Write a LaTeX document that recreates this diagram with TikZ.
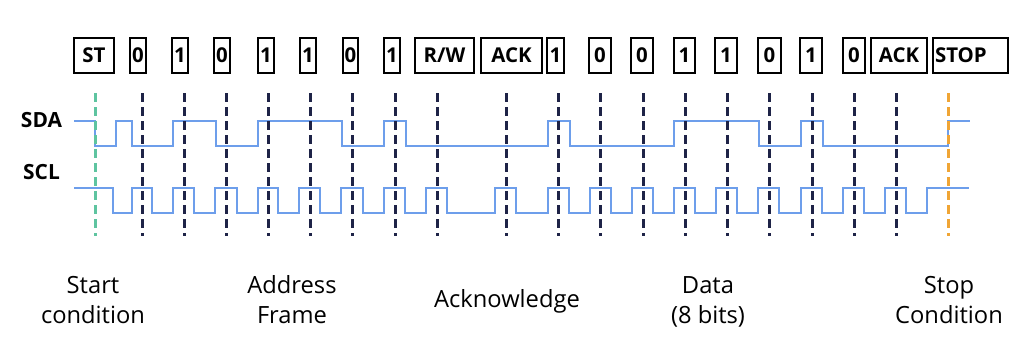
\documentclass[tikz,border=0pt]{standalone}
\usepackage{fontspec}
\setmainfont{Open Sans}
\definecolor{wblue}{HTML}{6D9EEB}
\definecolor{navy}{HTML}{1E2347}
\definecolor{tgreen}{HTML}{5EC4A0}
\definecolor{torange}{HTML}{F0A535}
\begin{document}
\begin{tikzpicture}[x=1bp,y=-1bp,
  bitbox/.style={draw=black, line width=1.8bp, minimum height=35.5bp, inner sep=0pt,
    font=\bfseries\fontsize{20.5}{22}\selectfont},
  wave/.style={draw=wblue, line width=2.1bp, line join=miter},
  tick/.style={line width=3bp, dash pattern=on 9bp off 5bp},
  lbl/.style={font=\fontsize{23.8}{30}\selectfont, anchor=base},
  sig/.style={font=\bfseries\fontsize{21}{24}\selectfont, anchor=base}]
\useasboundingbox (0,0) rectangle (1024,351);

% bit boxes
\foreach \l/\r/\t/\n in {73/115/ST/bst, 129/147/0/ba1, 171/189/1/ba2, 213/231/0/ba3,
  257/275/1/ba4, 299/317/1/ba5, 342/359/0/ba6, 383/401/1/ba7, 414/475/R\slash W/brw,
  480/543/ACK/back1, 546/565/1/bd1, 588/612/0/bd2, 630/654/0/bd3, 673/696/1/bd4,
  714/738/1/bd5, 757/782/0/bd6, 799/823/1/bd7, 842/866/0/bd8, 870/928/ACK/back2}
  \node[bitbox, minimum width={(\r-\l-1.8)*1bp}] (\n) at ({(\l+\r)/2},55.5) {\t};
\node[bitbox, minimum width=75.2bp, text width=71bp, align=left] (bstop) at (970.5,55.5) {STOP};

% signal names
\node[sig] (sda) at (41.5,127) {SDA};
\node[sig] (scl) at (41.5,179) {SCL};

% SDA waveform
\draw[wave] (74,121) -- (95,121) -- (95,146) -- (116,146) -- (116,121) -- (132,121)
  -- (132,146) -- (173,146) -- (173,121) -- (216,121) -- (216,146) -- (258,146)
  -- (258,121) -- (342,121) -- (342,146) -- (384,146) -- (384,121) -- (406,121)
  -- (406,146) -- (548,146) -- (548,121) -- (570,121) -- (570,146) -- (674,146)
  -- (674,121) -- (759,121) -- (759,146) -- (801,146) -- (801,121) -- (823,121)
  -- (823,146) -- (948,146) -- (948,121) -- (970,121);

% SCL waveform
\draw[wave] (74,188) -- (113,188) -- (113,213) -- (132,213) -- (132,188) -- (152,188)
  -- (152,213) -- (173,213) -- (173,188) -- (194,188) -- (194,213) -- (215,213)
  -- (215,188) -- (237,188) -- (237,213) -- (258,213) -- (258,188) -- (278,188)
  -- (278,213) -- (299,213) -- (299,188) -- (320,188) -- (320,213) -- (341,213)
  -- (341,188) -- (363,188) -- (363,213) -- (384,213) -- (384,188) -- (405,188)
  -- (405,213) -- (426,213) -- (426,188) -- (447,188) -- (447,213) -- (495,213)
  -- (495,188) -- (516,188) -- (516,213) -- (548,213) -- (548,188) -- (569,188)
  -- (569,213) -- (590,213) -- (590,188) -- (611,188) -- (611,213) -- (632,213)
  -- (632,188) -- (653,188) -- (653,213) -- (674,213) -- (674,188) -- (695,188)
  -- (695,213) -- (716,213) -- (716,188) -- (737,188) -- (737,213) -- (758,213)
  -- (758,188) -- (779,188) -- (779,213) -- (801,213) -- (801,188) -- (822,188)
  -- (822,213) -- (843,213) -- (843,188) -- (864,188) -- (864,213) -- (885,213)
  -- (885,188) -- (906,188) -- (906,213) -- (927,213) -- (927,188) -- (969,188);

% clock sample markers
\foreach \x in {142,184,226,268,310,352,395,437,506,558,600,643,685,727,769,812,854,896}
  \draw[tick, navy] (\x,93) -- (\x,236);
\draw[tick, tgreen] (95,93) -- (95,236);
\draw[tick, torange] (948,93) -- (948,236);

% bottom labels
\node[lbl] (start1) at (93,293) {Start};
\node[lbl] (start2) at (93,323) {condition};
\node[lbl] (addr1) at (292,293) {Address};
\node[lbl] (addr2) at (292,323) {Frame};
\node[lbl] (ack) at (507,307) {Acknowledge};
\node[lbl] (data1) at (708,293) {Data};
\node[lbl] (data2) at (708,323) {(8 bits)};
\node[lbl] (stop1) at (949,293) {Stop};
\node[lbl] (stop2) at (949,323) {Condition};
\end{tikzpicture}
\end{document}
